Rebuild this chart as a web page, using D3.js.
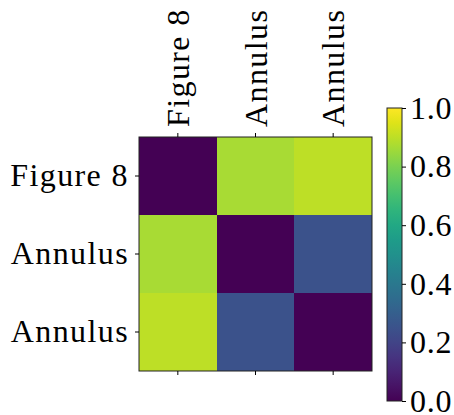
<!DOCTYPE html>
<html>
<head>
<meta charset="utf-8">
<script src="https://cdn.jsdelivr.net/npm/d3@7"></script>
<style>
  html, body { margin: 0; padding: 0; background: #fff; }
  svg text { font-family: "Liberation Serif", "Times New Roman", serif; fill: #000; }
</style>
</head>
<body>
<svg id="chart" width="454" height="415"></svg>
<script>
// Pairwise distance matrix between shapes (symmetric, zero diagonal)
const rowLabels = ["Figure 8", "Annulus", "Annulus"];
const colLabels = ["Figure 8", "Annulus", "Annulus"];
const matrix = [
  [0.00, 0.87, 0.90],
  [0.87, 0.00, 0.25],
  [0.90, 0.25, 0.00]
];
const colorTicks = [0.0, 0.2, 0.4, 0.6, 0.8, 1.0];

const svg = d3.select("#chart");
const fontSize = 32;

// Heatmap area
const hm = { x0: 139, x1: 372, y0: 137, y1: 371 };
const idx = d3.range(matrix.length);
const x = d3.scaleBand().domain(idx).range([hm.x0, hm.x1]);
const y = d3.scaleBand().domain(idx).range([hm.y0, hm.y1]);
const color = d3.scaleSequential(d3.interpolateViridis).domain([0, 1]);

const cells = [];
matrix.forEach((row, i) => row.forEach((v, j) => cells.push({ i, j, v })));

svg.append("g").selectAll("rect").data(cells).join("rect")
  .attr("x", d => x(d.j))
  .attr("y", d => y(d.i))
  .attr("width", x.bandwidth())
  .attr("height", y.bandwidth())
  .attr("fill", d => color(d.v))
  .attr("shape-rendering", "crispEdges");

svg.append("rect")
  .attr("x", hm.x0).attr("y", hm.y0)
  .attr("width", hm.x1 - hm.x0).attr("height", hm.y1 - hm.y0)
  .attr("fill", "none").attr("stroke", "#222").attr("stroke-width", 1);

function styleAxis(spacing) {
  return g => {
    g.select(".domain").remove();
    g.selectAll(".tick line").attr("stroke", "#000").attr("stroke-width", 1);
    g.selectAll(".tick text")
      .style("font-size", fontSize + "px")
      .style("letter-spacing", spacing + "px");
  };
}

// Left axis: row labels
svg.append("g")
  .attr("transform", `translate(${hm.x0},0)`)
  .call(d3.axisLeft(y).tickSize(4).tickPadding(6).tickFormat(i => rowLabels[i]))
  .call(styleAxis(1.4));

// Top axis: column labels, rotated
const topAxis = svg.append("g")
  .attr("transform", `translate(0,${hm.y0})`)
  .call(d3.axisTop(x).tickSize(4).tickPadding(10).tickFormat(i => colLabels[i]))
  .call(styleAxis(1.4));
topAxis.selectAll(".tick text")
  .attr("transform", "rotate(-90)")
  .attr("x", 10)
  .attr("y", 0)
  .attr("dy", "0.35em")
  .attr("text-anchor", "start");

// Bottom axis: ticks only
svg.append("g")
  .attr("transform", `translate(0,${hm.y1})`)
  .call(d3.axisBottom(x).tickSize(4).tickFormat(""))
  .call(styleAxis(0));

// Colorbar
const cb = { x0: 387, x1: 402, y0: 108, y1: 401 };
const grad = svg.append("defs").append("linearGradient")
  .attr("id", "viridis-grad")
  .attr("x1", "0%").attr("y1", "100%").attr("x2", "0%").attr("y2", "0%");
d3.range(0, 1.0001, 0.05).forEach(t => {
  grad.append("stop").attr("offset", (t * 100) + "%").attr("stop-color", color(t));
});
svg.append("rect")
  .attr("x", cb.x0).attr("y", cb.y0)
  .attr("width", cb.x1 - cb.x0).attr("height", cb.y1 - cb.y0)
  .attr("fill", "url(#viridis-grad)")
  .attr("stroke", "#222").attr("stroke-width", 1);

const cbScale = d3.scaleLinear().domain([0, 1]).range([cb.y1, cb.y0]);
svg.append("g")
  .attr("transform", `translate(${cb.x1},0)`)
  .call(d3.axisRight(cbScale).tickValues(colorTicks).tickSize(4).tickPadding(4).tickFormat(d3.format(".1f")))
  .call(styleAxis(0.8));
</script>
</body>
</html>
